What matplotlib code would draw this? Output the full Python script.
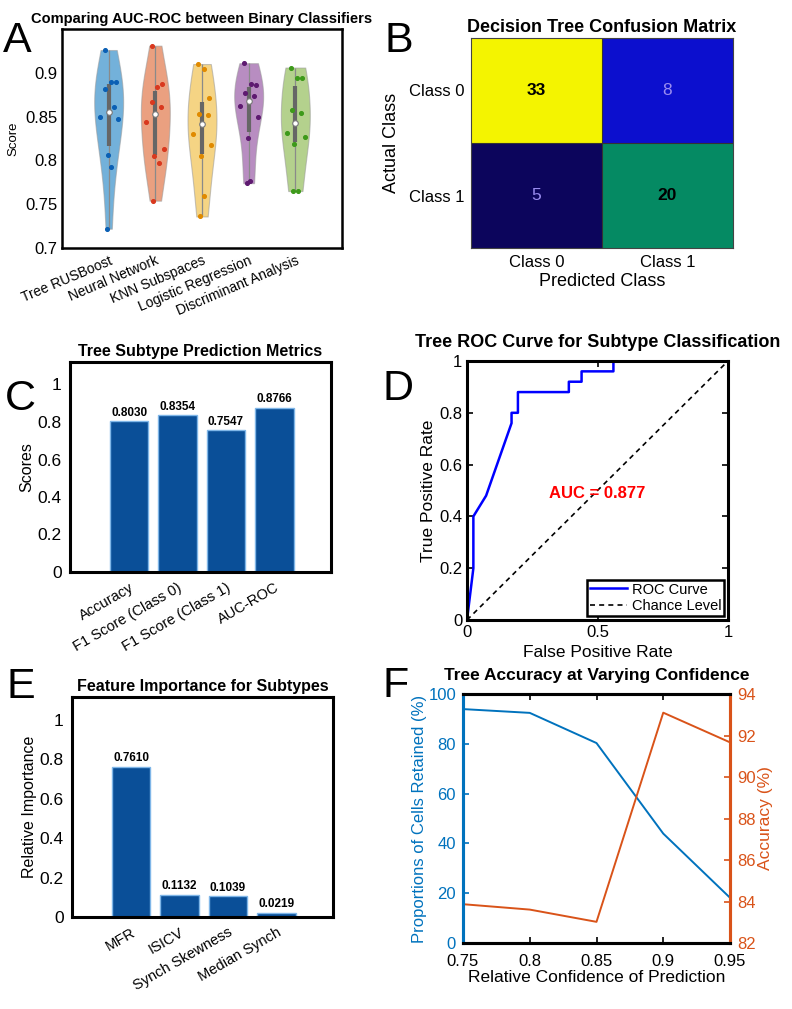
import numpy as np
import matplotlib
matplotlib.use('Agg')
from matplotlib import pyplot as plt
from matplotlib.colors import LinearSegmentedColormap, Normalize

plt.rcParams['font.family'] = ['Liberation Sans', 'DejaVu Sans']

# ---- A: AUC-ROC per classifier (10 folds each) ----
classifiers = ['Tree RUSBoost', 'Neural Network', 'KNN Subspaces',
               'Logistic Regression', 'Discriminant Analysis']
auc_tree = [0.926, 0.889, 0.890, 0.881, 0.861, 0.850, 0.847, 0.806, 0.792, 0.722]
auc_nn = [0.931, 0.884, 0.8875, 0.867, 0.861, 0.844, 0.813, 0.8045, 0.797, 0.754]
auc_knn = [0.910, 0.904, 0.871, 0.853, 0.852, 0.830, 0.818, 0.8045, 0.759, 0.736]
auc_lr = [0.911, 0.887, 0.886, 0.8765, 0.8735, 0.862, 0.850, 0.826, 0.776, 0.774]
auc_da = [0.906, 0.894, 0.894, 0.8576, 0.8545, 0.831, 0.827, 0.8185, 0.765, 0.7656]
violin_face = ['#0072BD', '#D95319', '#EDB120', '#7E2F8E', '#77AC30']
violin_dots = ['#0a5fb4', '#d9381e', '#e08a00', '#5e1a70', '#3d9a1a']

# ---- B: confusion matrix ----
cm_labels = ['Class 0', 'Class 1']
conf_mat = np.array([[33, 8], [5, 20]])

# ---- C: metrics ----
metric_names = ['Accuracy', 'F1 Score (Class 0)', 'F1 Score (Class 1)', 'AUC-ROC']
metric_vals = [0.8030, 0.8354, 0.7547, 0.8766]

# ---- D: ROC ----
roc_fpr = [0, 0.0244, 0.0244, 0.0732, 0.1707, 0.1707, 0.1951, 0.1951, 0.3902,
           0.3902, 0.4390, 0.4390, 0.5610, 0.5610, 1.0]
roc_tpr = [0, 0.20, 0.40, 0.48, 0.76, 0.80, 0.80, 0.88, 0.88,
           0.92, 0.92, 0.96, 0.96, 1.0, 1.0]
auc_val = 0.877

# ---- E: feature importance ----
feat_names = ['MFR', 'ISICV', 'Synch Skewness', 'Median Synch']
feat_vals = [0.7610, 0.1132, 0.1039, 0.0219]

# ---- F: accuracy vs confidence ----
conf_levels = [0.75, 0.8, 0.85, 0.9, 0.95]
cells_retained = [93.94, 92.42, 80.30, 43.94, 18.18]
accuracy_pct = [83.87, 83.61, 83.02, 93.10, 91.67]

W, H = 792, 1009
fig = plt.figure(figsize=(W / 100, H / 100), dpi=100)


def box(x0, y0, x1, y1):
    # pixel box (top-left origin) -> figure fraction rect
    return [x0 / W, 1 - y1 / H, (x1 - x0) / W, (y1 - y0) / H]


def panel_label(letter, x, y):
    fig.text(x / W, 1 - y / H, letter, fontsize=31, va='baseline', ha='left')


def kde(vals, grid, bw=0.75):
    vals = np.asarray(vals)
    h = bw * vals.std(ddof=1)
    d = np.exp(-0.5 * ((grid[:, None] - vals[None, :]) / h) ** 2).sum(axis=1)
    return d / d.max()


# ================= A =================
axA = fig.add_axes(box(62, 29, 342, 248))
groups = [auc_tree, auc_nn, auc_knn, auc_lr, auc_da]
pos = np.arange(1, len(groups) + 1)
parts = axA.violinplot(groups, positions=pos, widths=0.62, showextrema=False,
                       bw_method=0.7)
for body, c in zip(parts['bodies'], violin_face):
    body.set_facecolor(c)
    body.set_alpha(0.55)
    body.set_edgecolor('#9a9a9a')
    body.set_linewidth(0.8)
pattern = np.array([-0.6, 0.2, 0.7, -0.3, 0.5, -0.8, 0.9, -0.1, 0.4, -0.5])
for p, g, dc in zip(pos, groups, violin_dots):
    g = np.asarray(g)
    q1, med, q3 = np.percentile(g, [25, 50, 75])
    axA.vlines(p, g.min(), g.max(), color='#8a8a8a', lw=0.9, zorder=3)
    axA.vlines(p, q1, q3, color='#666666', lw=3, zorder=3)
    dens = kde(g, g)
    axA.scatter(p + 0.24 * dens * pattern[:len(g)], g, s=7, color=dc, zorder=4)
    axA.scatter([p], [med], s=16, color='white', edgecolor='#777777',
                linewidth=0.8, zorder=5)
axA.set_xlim(0, 6)
axA.set_ylim(0.7, 0.95)
axA.set_yticks([0.7, 0.75, 0.8, 0.85, 0.9])
axA.set_yticklabels(['0.7', '0.75', '0.8', '0.85', '0.9'])
axA.set_xticks(pos)
axA.set_xticklabels(classifiers, rotation=23, ha='right', rotation_mode='anchor',
                    fontsize=10)
axA.tick_params(axis='y', labelsize=12, length=0)
axA.tick_params(axis='x', length=0, pad=4)
axA.set_ylabel('Score', fontsize=9.5)
axA.set_title('Comparing AUC-ROC between Binary Classifiers', fontsize=10.5,
              fontweight='bold', pad=4)
for s in axA.spines.values():
    s.set_linewidth(1.8)
panel_label('A', 3, 52)

# ================= B =================
axB = fig.add_axes(box(471, 38, 733, 248))
vmin, vmax = conf_mat.min(), conf_mat.max()
nodes = sorted(conf_mat.ravel())
node_cols = ['#0c055c', '#0c10d0', '#058a64', '#f4f400']
cmap = LinearSegmentedColormap.from_list(
    'cm', [((v - vmin) / (vmax - vmin), c) for v, c in zip(nodes, node_cols)])
axB.imshow(conf_mat, cmap=cmap, norm=Normalize(vmin, vmax), aspect='auto')
for i in range(2):
    for j in range(2):
        v = conf_mat[i, j]
        dark = (v - vmin) / (vmax - vmin) < 0.3
        axB.text(j, i, str(v), ha='center', va='center', fontsize=12.5,
                 fontweight='normal' if dark else 'bold',
                 color='#9a8cf0' if dark else 'black')
axB.set_xticks([0, 1])
axB.set_yticks([0, 1])
axB.set_xticklabels(cm_labels)
axB.set_yticklabels(cm_labels)
axB.tick_params(length=0, labelsize=12, pad=5)
axB.axhline(0.5, color='#333333', lw=0.8)
axB.axvline(0.5, color='#333333', lw=0.8)
axB.set_xlabel('Predicted Class', fontsize=13, labelpad=2)
axB.set_ylabel('Actual Class', fontsize=13, labelpad=6)
axB.set_title('Decision Tree Confusion Matrix', fontsize=13,
              fontweight='bold', pad=4)
for s in axB.spines.values():
    s.set_linewidth(0.8)
    s.set_color('#444444')
panel_label('B', 385, 52)


def bar_panel(ax, names, vals, title, ylabel):
    x = np.arange(len(vals))
    bars = ax.bar(x, vals, width=0.8, color='#0a4f98', edgecolor='#7fb6e8',
                  linewidth=1.0)
    for b, v in zip(bars, vals):
        ax.text(b.get_x() + b.get_width() / 2, v + 0.015, f'{v:.4f}',
                ha='center', va='bottom', fontsize=8.5, fontweight='bold')
    ax.set_xlim(-1.22, 4.17)
    ax.set_ylim(0, 1.12)
    ax.set_yticks([0, 0.2, 0.4, 0.6, 0.8, 1])
    ax.set_yticklabels(['0', '0.2', '0.4', '0.6', '0.8', '1'])
    ax.set_xticks(x)
    ax.set_xticklabels(names, rotation=30, ha='right', rotation_mode='anchor',
                       fontsize=10.5)
    ax.tick_params(axis='y', labelsize=12.5, length=0, pad=6)
    ax.tick_params(axis='x', length=0, pad=6)
    ax.set_ylabel(ylabel, fontsize=11.5, labelpad=2)
    ax.set_title(title, fontsize=11.5, fontweight='bold', pad=4)
    for s in ax.spines.values():
        s.set_linewidth(2.2)


# ================= C =================
axC = fig.add_axes(box(70, 362, 331, 572))
bar_panel(axC, metric_names, metric_vals, 'Tree Subtype Prediction Metrics', 'Scores')
panel_label('C', 5, 410)

# ================= D =================
axD = fig.add_axes(box(467, 361, 728, 620))
axD.plot(roc_fpr, roc_tpr, color='#0000ff', lw=1.8, label='ROC Curve')
axD.plot([0, 1], [0, 1], color='black', lw=1.2, ls=(0, (3, 2.5)),
         label='Chance Level')
axD.text(0.5, 0.49, f'AUC = {auc_val:.3f}', color='red', fontsize=12,
         fontweight='bold', ha='center', va='center')
axD.set_xlim(0, 1)
axD.set_ylim(0, 1)
axD.set_xticks([0, 0.5, 1])
axD.set_xticklabels(['0', '0.5', '1'])
axD.set_yticks([0, 0.2, 0.4, 0.6, 0.8, 1])
axD.set_yticklabels(['0', '0.2', '0.4', '0.6', '0.8', '1'])
axD.tick_params(direction='in', top=True, right=True, labelsize=12, length=4,
                width=1.2)
axD.set_xlabel('False Positive Rate', fontsize=12.5)
axD.set_ylabel('True Positive Rate', fontsize=12.5, labelpad=2)
axD.set_title('Tree ROC Curve for Subtype Classification', fontsize=13,
              fontweight='bold', pad=10)
leg = axD.legend(loc='lower right', fontsize=10.5, fancybox=False,
                 edgecolor='black', framealpha=1, handlelength=2.6,
                 borderpad=0.2, labelspacing=0.2, handletextpad=0.3,
                 borderaxespad=0.25)
leg.get_frame().set_linewidth(1.8)
for s in axD.spines.values():
    s.set_linewidth(2.2)
panel_label('D', 383, 400)

# ================= E =================
axE = fig.add_axes(box(72, 697, 333, 917))
bar_panel(axE, feat_names, feat_vals, 'Feature Importance for Subtypes',
          'Relative Importance')
axE.set_ylim(0, 1.115)
panel_label('E', 6, 698)

# ================= F =================
blue = '#0072BD'
orange = '#D95319'
axF = fig.add_axes(box(463, 694, 730, 943))
axF.plot(conf_levels, cells_retained, color=blue, lw=1.4)
axF.set_xlim(0.75, 0.95)
axF.set_ylim(0, 100)
axF.set_xticks(conf_levels)
axF.set_xticklabels(['0.75', '0.8', '0.85', '0.9', '0.95'])
axF.set_yticks([0, 20, 40, 60, 80, 100])
axF.tick_params(direction='in', top=True, labelsize=12, length=4, width=1.2)
axF.tick_params(axis='x', colors='black', pad=8)
axF.tick_params(axis='y', colors=blue, pad=5)
axF.set_ylabel('Proportions of Cells Retained (%)', color=blue, fontsize=12,
               labelpad=1)
axF.set_xlabel('Relative Confidence of Prediction', fontsize=12.5, labelpad=1)
axF.set_title('Tree Accuracy at Varying Confidence', fontsize=12.5,
              fontweight='bold', pad=10)
axF2 = axF.twinx()
axF2.plot(conf_levels, accuracy_pct, color=orange, lw=1.4)
axF2.set_ylim(82, 94)
axF2.set_yticks([82, 84, 86, 88, 90, 92, 94])
axF2.tick_params(direction='in', labelsize=12, length=4, width=1.2,
                 colors=orange, pad=5)
axF2.set_ylabel('Accuracy (%)', color=orange, fontsize=12.5, labelpad=2)
for a in (axF, axF2):
    for s in a.spines.values():
        s.set_linewidth(2.2)
axF2.spines['left'].set_color(blue)
axF2.spines['right'].set_color(orange)
axF.spines['left'].set_color(blue)
axF.spines['right'].set_color(orange)
panel_label('F', 382, 697)

fig.savefig('out.png', dpi=100)
